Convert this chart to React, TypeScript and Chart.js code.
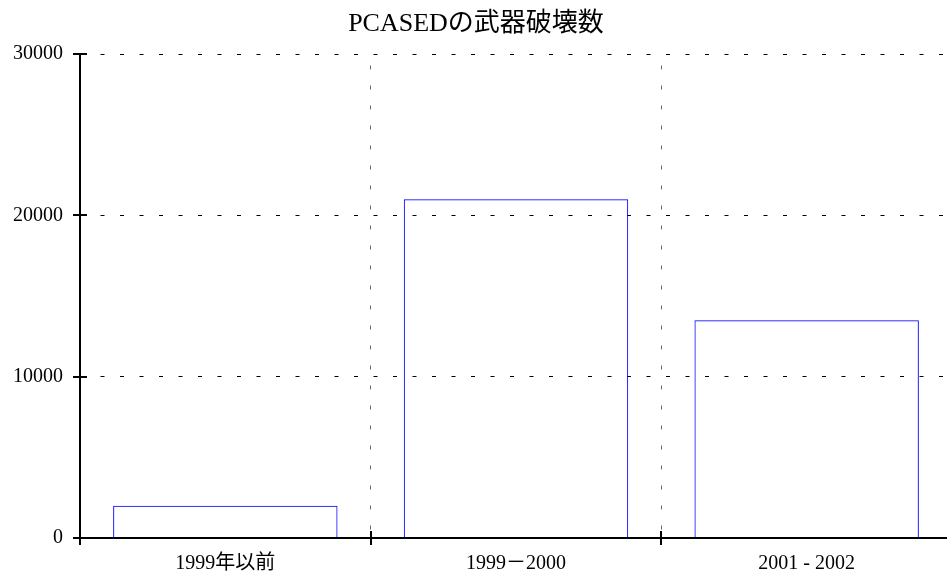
import React, { useEffect, useRef } from "react";
import { Chart, registerables } from "chart.js";

Chart.register(...registerables);

const titleText = "PCASEDの武器破壊数";
const categories = ["1999年以前", "1999－2000", "2001 - 2002"];
const values = [2000, 21000, 13500];
const yTicks = [0, 10000, 20000, 30000];

const FONT = "'Liberation Serif', 'DejaVu Serif', 'Noto Sans CJK JP', serif";

const crossTicks = {
  id: "crossTicks",
  afterDraw(chart: any) {
    const { ctx, chartArea, scales } = chart;
    const x = scales.x;
    const y = scales.y;
    ctx.save();
    ctx.strokeStyle = "#000";
    ctx.lineWidth = 2;
    ctx.beginPath();
    for (const t of y.ticks) {
      const py = Math.round(y.getPixelForValue(t.value));
      ctx.moveTo(chartArea.left - 7, py);
      ctx.lineTo(chartArea.left + 7, py);
    }
    for (let i = 0; i <= categories.length; i++) {
      const px = Math.round(x.getPixelForValue(i - 0.5));
      ctx.moveTo(px, chartArea.bottom - 7);
      ctx.lineTo(px, chartArea.bottom + 7);
    }
    ctx.stroke();
    ctx.restore();
  },
};

export default function App() {
  const ref = useRef<HTMLCanvasElement | null>(null);
  useEffect(() => {
    if (!ref.current) return;
    const chart = new Chart(ref.current, {
      type: "bar",
      data: {
        labels: categories,
        datasets: [
          {
            data: values,
            backgroundColor: "rgba(255,255,255,0)",
            borderColor: "#0000ff",
            borderWidth: 1,
            barPercentage: 0.772,
            categoryPercentage: 1,
          },
        ],
      },
      plugins: [crossTicks],
      options: {
        responsive: false,
        animation: false,
        layout: { padding: 0 },
        plugins: {
          legend: { display: false },
          tooltip: { enabled: false },
          title: {
            display: true,
            text: titleText,
            color: "#000",
            font: { family: FONT, size: 26, weight: "normal", lineHeight: 1.2 },
            padding: { top: 9, bottom: 13.8 },
          },
        },
        scales: {
          x: {
            type: "category",
            grid: {
              display: true,
              offset: true,
              color: "#6a6a6a",
              lineWidth: 1,
              drawTicks: false,
            },
            border: { display: true, color: "#000", width: 2, dash: [4, 16], dashOffset: 8.5 },
            ticks: { color: "#000", font: { family: FONT, size: 20 }, padding: 14 },
            afterFit: (s: any) => {
              s.height = 38;
            },
          },
          y: {
            min: 0,
            max: 30000,
            afterBuildTicks: (s: any) => {
              s.ticks = yTicks.map((v) => ({ value: v }));
            },
            grid: { color: "#000", lineWidth: 1, drawTicks: false },
            border: { display: true, color: "#000", width: 2, dash: [4, 15.5] },
            ticks: {
              color: "#000",
              font: { family: FONT, size: 20 },
              padding: 17,
              callback: (v: any) => String(v),
            },
            afterFit: (s: any) => {
              s.width = 80;
            },
          },
        },
      },
    } as any);
    return () => chart.destroy();
  }, []);
  return (
    <div style={{ position: "fixed", left: 0, top: 0, width: 947, height: 576, overflow: "hidden", background: "#fff" }}>
      <canvas ref={ref} width={952} height={576} style={{ display: "block" }} />
    </div>
  );
}
